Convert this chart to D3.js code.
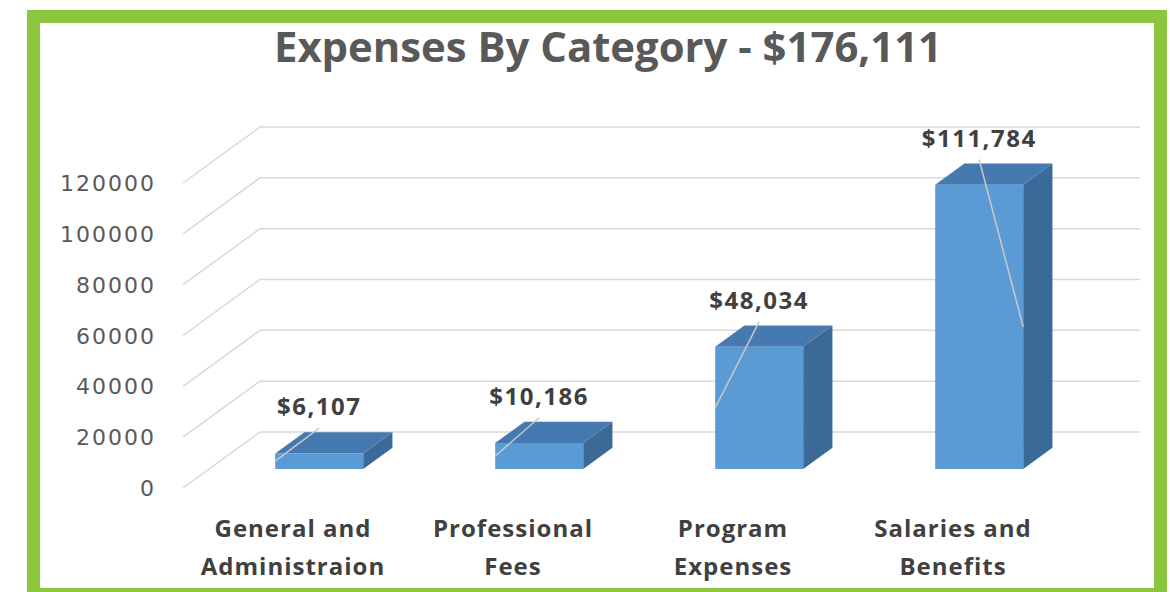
<!DOCTYPE html>
<html>
<head>
<meta charset="utf-8">
<script src="https://cdn.jsdelivr.net/npm/d3@7"></script>
<style>
  body { margin: 0; background: #fff; }
  .grid { stroke: #d9d9d9; stroke-width: 1.5; fill: none; }
  .tick-label { font-family: "DejaVu Sans", sans-serif; font-size: 22px; fill: #595959; letter-spacing: 2px; }
  .cat-label { font-family: "Open Sans", sans-serif; font-weight: bold; font-size: 24px; fill: #404040; letter-spacing: 1px; }
  .value-label { font-family: "Open Sans", sans-serif; font-weight: bold; font-size: 24px; fill: #404040; letter-spacing: 1.5px; }
  .leader { stroke: #c8c8c8; stroke-width: 1.5; }
</style>
</head>
<body>
<div id="container"></div>
<script>
const WIDTH = 1170;
const HEIGHT = 592;
const WALL_LEFT = 183;
const WALL_RIGHT = 1063;
const DEPTH_X = 77;
const DEPTH_Y = -56;
const BAR_FRONT = 0.34;
const BAR_BACK = 0.72;

var TITLE = "Expenses By Category - $176,111";
var CATEGORIES = ["General and Administraion", "Professional Fees", "Program Expenses", "Salaries and Benefits"];
var VALUES = [6107, 10186, 48034, 111784];
var VALUE_LABELS = ["$6,107", "$10,186", "$48,034", "$111,784"];
var TICKS = [0, 20000, 40000, 60000, 80000, 100000, 120000];
var LEADER_SIDE = ["left", "left", "left", "right"];

var XScale = d3.scaleBand()
    .domain(CATEGORIES)
    .range([WALL_LEFT, WALL_RIGHT])
    .paddingInner(0.6)
    .paddingOuter(0.3);

var YScale = d3.scaleLinear()
    .domain([0, 120000])
    .range([488, 183]);

var shift = function (p, f) {
    return [p[0] + f * DEPTH_X, p[1] + f * DEPTH_Y];
};

var poly = function (pts) {
    return "M" + pts.map(function (p) { return p.join(","); }).join("L") + "Z";
};

var drawBorder = function (svg) {
    svg.append("rect")
        .attr("x", 33.5).attr("y", 16.5)
        .attr("width", 1127).attr("height", 578)
        .attr("fill", "none")
        .attr("stroke", "#8cc63f")
        .attr("stroke-width", 13);
};

var drawTitle = function (svg) {
    svg.append("text")
        .attr("x", 608).attr("y", 62)
        .attr("text-anchor", "middle")
        .attr("textLength", 668)
        .attr("lengthAdjust", "spacingAndGlyphs")
        .style("font-family", "'Open Sans', sans-serif")
        .style("font-weight", "bold")
        .style("font-size", "41px")
        .style("fill", "#595959")
        .text(TITLE);
};

var drawGrid = function (svg) {
    var g = svg.append("g");
    TICKS.forEach(function (t) {
        var front = [WALL_LEFT, YScale(t)];
        var back = shift(front, 1);
        g.append("path").classed("grid", true)
            .attr("d", "M" + front.join(",") + "L" + back.join(",") + "L" + (WALL_RIGHT + DEPTH_X) + "," + back[1]);
        g.append("text").classed("tick-label", true)
            .attr("x", 156).attr("y", YScale(t) + 8)
            .attr("text-anchor", "end")
            .text(t);
    });
};

var drawBars = function (svg) {
    var g = svg.append("g");
    CATEGORIES.forEach(function (c, i) {
        var x0 = XScale(c), x1 = x0 + XScale.bandwidth();
        var yb = YScale(0), yt = YScale(VALUES[i]);
        var fbl = shift([x0, yb], BAR_FRONT), fbr = shift([x1, yb], BAR_FRONT);
        var ftl = shift([x0, yt], BAR_FRONT), ftr = shift([x1, yt], BAR_FRONT);
        var btl = shift([x0, yt], BAR_BACK), btr = shift([x1, yt], BAR_BACK);
        var bbr = shift([x1, yb], BAR_BACK);

        g.append("path").attr("d", poly([fbr, ftr, btr, bbr])).attr("fill", "#3b6a98");
        g.append("path").attr("d", poly([ftl, ftr, btr, btl])).attr("fill", "#4679b0");
        g.append("path").attr("d", poly([fbl, fbr, ftr, ftl])).attr("fill", "#5b9bd5");

        var cx = (ftl[0] + ftr[0]) / 2;
        var base = btl[1] - 17;
        var mid = shift([LEADER_SIDE[i] === "left" ? x0 : x1, YScale(VALUES[i] / 2)], BAR_FRONT);
        g.append("line").classed("leader", true)
            .attr("x1", cx).attr("y1", base + 13)
            .attr("x2", mid[0]).attr("y2", mid[1]);
        g.append("text").classed("value-label", true)
            .attr("x", cx).attr("y", base)
            .attr("text-anchor", "middle")
            .text(VALUE_LABELS[i]);
    });
};

var drawCategoryLabels = function (svg) {
    CATEGORIES.forEach(function (c) {
        var words = c.split(" ");
        var lines = [words.slice(0, -1).join(" "), words[words.length - 1]];
        var cx = XScale(c) + XScale.bandwidth() / 2;
        var t = svg.append("text").classed("cat-label", true)
            .attr("text-anchor", "middle")
            .attr("x", cx)
            .attr("y", 537);
        lines.forEach(function (l, k) {
            t.append("tspan")
                .attr("x", cx)
                .attr("dy", k === 0 ? 0 : 38)
                .text(l);
        });
    });
};

var generateChart = function () {
    var svg = d3.select("#container").append("svg")
        .attr("width", WIDTH)
        .attr("height", HEIGHT);
    drawBorder(svg);
    drawTitle(svg);
    drawGrid(svg);
    drawBars(svg);
    drawCategoryLabels(svg);
};

window.onload = generateChart;
</script>
</body>
</html>
